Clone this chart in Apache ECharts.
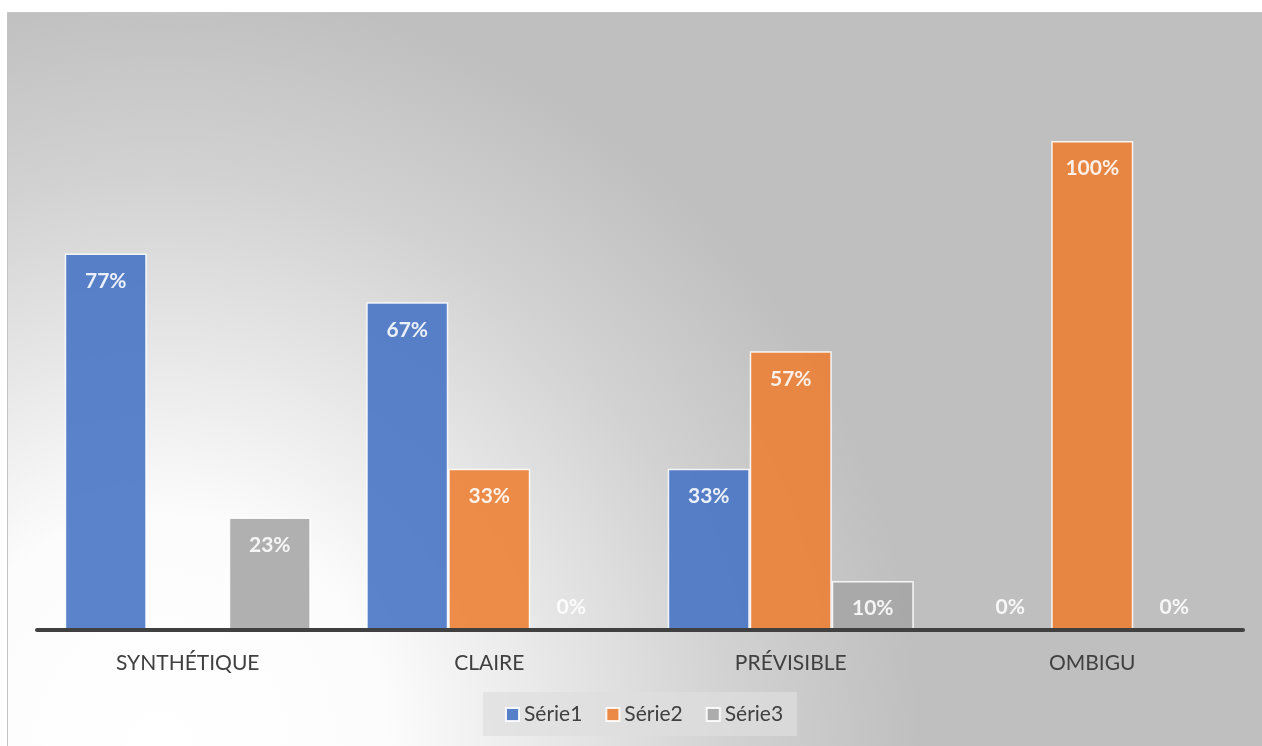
<!DOCTYPE html>
<html>
<head>
<meta charset="utf-8">
<script src="https://cdn.jsdelivr.net/npm/echarts@6/dist/echarts.min.js"></script>
<style>
  html, body { margin: 0; padding: 0; background: #ffffff; }
  #chart { width: 1262px; height: 746px; }
</style>
</head>
<body>
<div id="chart"></div>
<script>
// Categories and series values (percent)
const categories = ['SYNTHÉTIQUE', 'CLAIRE', 'PRÉVISIBLE', 'OMBIGU'];
const serie1 = [77, 67, 33, 0];
const serie2 = [null, 33, 57, 100];
const serie3 = [23, 0, 10, 0];
const seriesNames = ['Série1', 'Série2', 'Série3'];
const seriesColors = ['#4472C4', '#ED7D31', '#A5A5A5'];

const FONT = 'Lato, "Open Sans", sans-serif';

// Zero values get their label placed just above the baseline
function toData(values) {
  return values.map(v => (v === 0 ? { value: v, label: { position: 'top', distance: 12 } } : v));
}

function makeSeries(name, values, color) {
  return {
    name: name,
    type: 'bar',
    data: toData(values),
    barGap: '0%',
    barCategoryGap: '18.4%',
    itemStyle: { color: color, opacity: 0.88, borderColor: '#ffffff', borderWidth: 1.5 },
    label: {
      show: true,
      position: 'insideTop',
      distance: 17,
      formatter: '{c}%',
      color: '#ffffff',
      fontFamily: FONT,
      fontWeight: 'bold',
      fontSize: 21
    },
    emphasis: { disabled: true }
  };
}

const chart = echarts.init(document.getElementById('chart'), null, { renderer: 'canvas' });

chart.setOption({
  animation: false,
  graphic: {
    elements: [{
      type: 'rect',
      z: -100,
      silent: true,
      shape: { x: 7.5, y: 12.5, width: 1270, height: 760 },
      style: {
        fill: {
          type: 'radial', x: 160, y: 746, r: 760, global: true,
          colorStops: [
            { offset: 0, color: '#ffffff' },
            { offset: 0.3, color: '#fcfcfc' },
            { offset: 0.75, color: '#d2d2d2' },
            { offset: 1, color: '#bfbfbf' }
          ]
        },
        stroke: '#c4c4c4',
        lineWidth: 1
      }
    }]
  },
  legend: {
    left: 483,
    top: 692,
    orient: 'horizontal',
    backgroundColor: 'rgba(222,222,222,0.7)',
    padding: [12, 14, 11, 22],
    itemGap: 23,
    itemWidth: 13,
    itemHeight: 13,
    icon: 'rect',
    textStyle: { color: '#404040', fontFamily: FONT, fontSize: 21 },
    data: seriesNames
  },
  grid: { left: 37, right: 19, top: 43.2, bottom: 116 },
  xAxis: {
    type: 'category',
    data: categories,
    z: 10,
    axisLine: { lineStyle: { color: '#404040', width: 4 } },
    axisTick: { show: false },
    axisLabel: { color: '#404040', fontFamily: FONT, fontSize: 21, margin: 23 }
  },
  yAxis: {
    type: 'value',
    min: 0,
    max: 120,
    show: false,
    splitLine: { show: false }
  },
  series: [
    makeSeries(seriesNames[0], serie1, seriesColors[0]),
    makeSeries(seriesNames[1], serie2, seriesColors[1]),
    makeSeries(seriesNames[2], serie3, seriesColors[2])
  ]
});
</script>
</body>
</html>
